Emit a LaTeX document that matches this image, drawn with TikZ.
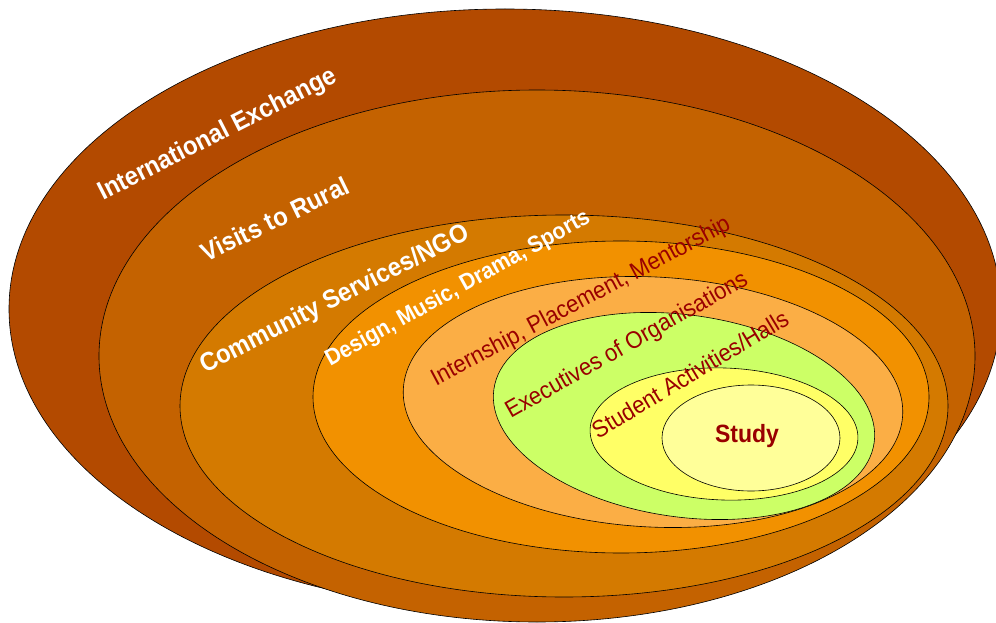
\documentclass[tikz,border=0pt]{standalone}
\usepackage{fontspec}
\setmainfont{Liberation Sans}[FakeStretch=0.92]
\definecolor{ringA}{HTML}{B34A00}
\definecolor{ringB}{HTML}{C46200}
\definecolor{ringC}{HTML}{D47A00}
\definecolor{ringD}{HTML}{F29100}
\definecolor{ringE}{HTML}{FBAE45}
\definecolor{ringF}{HTML}{CCFF66}
\definecolor{ringG}{HTML}{FFFF66}
\definecolor{ringH}{HTML}{FFFF99}
\definecolor{labelred}{HTML}{990000}
\begin{document}
\begin{tikzpicture}[x=1pt,y=1pt,
        ring/.style={draw=black, line width=0.6pt},
        lightlbl/.style={text=white, inner sep=0pt, font=\bfseries\fontsize{26}{30}\selectfont},
        darklbl/.style={text=labelred, inner sep=0pt, font=\fontsize{24}{28}\selectfont}]
        \useasboundingbox (0,-623) rectangle (996,0);
        \clip (0,-623) rectangle (996,0);

        % Rings, from the outside in
        \filldraw[ring, fill=ringA] (505,-309) ellipse [x radius=496, y radius=300];
        \filldraw[ring, fill=ringB] (537,-356) ellipse [x radius=438, y radius=266];
        \filldraw[ring, fill=ringC] (564,-406) ellipse [x radius=384, y radius=191];
        \filldraw[ring, fill=ringD] (621,-397) ellipse [x radius=308, y radius=156];
        \filldraw[ring, fill=ringE, rotate around={-3:(653,-402)}] (653,-402) ellipse [x radius=250, y radius=125];
        \filldraw[ring, fill=ringF, rotate around={-8:(684,-416)}] (684,-416) ellipse [x radius=192, y radius=101];
        \filldraw[ring, fill=ringG, rotate around={-2:(724,-434)}] (724,-434) ellipse [x radius=134, y radius=66];
        \filldraw[ring, fill=ringH] (751,-438) ellipse [x radius=89, y radius=53];

        % Outer labels
        \node[lightlbl, rotate=27] (intl) at (218,-135) {International Exchange};
        \node[lightlbl, rotate=26] (rural) at (275,-219) {Visits to Rural};
        \node[lightlbl, rotate=27] (ngo) at (335,-300) {Community Services/NGO};
        \node[lightlbl, rotate=29, font=\bfseries\fontsize{23}{27}\selectfont] (arts) at (458,-289) {Design, Music, Drama, Sports};

        % Inner labels
        \node[darklbl, rotate=28] (intern) at (581,-302) {Internship, Placement, Mentorship};
        \node[darklbl, rotate=29.5] (exec) at (627,-346) {Executives of Organisations};
        \node[darklbl, rotate=31] (halls) at (690,-374) {Student Activities/Halls};
        \node[darklbl, font=\bfseries\fontsize{25}{29}\selectfont] (study) at (747,-436) {Study};

\end{tikzpicture}
\end{document}
